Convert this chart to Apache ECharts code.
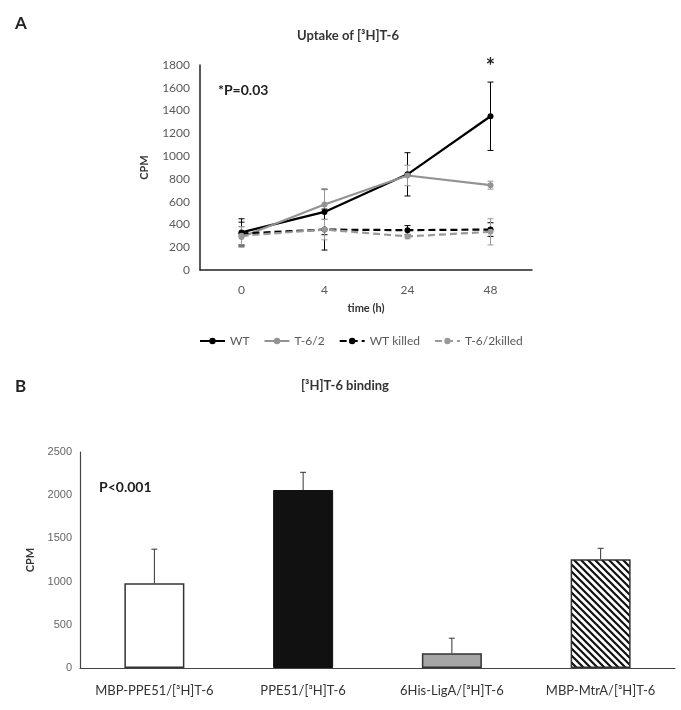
<!DOCTYPE html>
<html>
<head>
<meta charset="utf-8">
<script src="https://cdn.jsdelivr.net/npm/echarts@6/dist/echarts.min.js"></script>
<style>html,body{margin:0;padding:0;background:#fff;}#c{width:681px;height:710px;}</style>
</head>
<body>
<div id="c"></div>
<script>
// Panel A data
const timeLabels = ['0', '4', '24', '48'];
const wtMean = [330, 510, 840, 1350];
const wtErr = [120, 200, 190, 300];
const t62Mean = [290, 575, 830, 745];
const t62Err = [90, 130, 90, 35];
const wtKilledMean = [320, 355, 350, 355];
const wtKilledErr = [100, 180, 40, 60];
const t62KilledMean = [300, 355, 295, 335];
const t62KilledErr = [80, 90, 20, 115];
const yTicksA = [0, 200, 400, 600, 800, 1000, 1200, 1400, 1600, 1800];

// Panel B data
const bindCats = ['MBP-PPE51/[³H]T-6', 'PPE51/[³H]T-6', '6His-LigA/[³H]T-6', 'MBP-MtrA/[³H]T-6'];
const bindMean = [980, 2060, 170, 1260];
const bindErr = [395, 205, 175, 125];
const yTicksB = [0, 500, 1000, 1500, 2000, 2500];

const FONT = 'Lato, "Open Sans", sans-serif';

function errData(means, errs, upOnly) {
  return means.map((m, i) => [i, upOnly ? m : m - errs[i], m + errs[i]]);
}
function errRender(params, api) {
  const x = api.value(0);
  const lo = api.coord([x, api.value(1)]);
  const hi = api.coord([x, api.value(2)]);
  const c = api.visual('color');
  const w = 3;
  const style = { stroke: c, lineWidth: 1 };
  return {
    type: 'group',
    children: [
      { type: 'line', shape: { x1: lo[0], y1: lo[1], x2: hi[0], y2: hi[1] }, style: style },
      { type: 'line', shape: { x1: hi[0] - w, y1: hi[1], x2: hi[0] + w, y2: hi[1] }, style: style },
      { type: 'line', shape: { x1: lo[0] - w, y1: lo[1], x2: lo[0] + w, y2: lo[1] }, style: style }
    ]
  };
}

// hatch pattern
const pc = document.createElement('canvas');
const s = 7;
pc.width = s; pc.height = s;
const g = pc.getContext('2d');
g.fillStyle = '#fff'; g.fillRect(0, 0, s, s);
g.strokeStyle = '#111'; g.lineWidth = 2.2;
g.beginPath();
g.moveTo(-1, -1); g.lineTo(s + 1, s + 1);
g.moveTo(-1, s - 1); g.lineTo(1, s + 1);
g.moveTo(s - 1, -1); g.lineTo(s + 1, 1);
g.stroke();

const barStyles = [
  { color: '#ffffff', borderColor: '#333', borderWidth: 1.5 },
  { color: '#111111', borderColor: '#111', borderWidth: 1 },
  { color: '#a6a6a6', borderColor: '#333', borderWidth: 1.5 },
  { color: { image: pc, repeat: 'repeat' }, borderColor: '#333', borderWidth: 1.5 }
];

const lineSeries = [
  { name: 'WT', data: wtMean, err: wtErr, color: '#000000', type: 'solid' },
  { name: 'T-6/2', data: t62Mean, err: t62Err, color: '#939393', type: 'solid' },
  { name: 'WT killed', data: wtKilledMean, err: wtKilledErr, color: '#000000', type: [7, 4] },
  { name: 'T-6/2killed', data: t62KilledMean, err: t62KilledErr, color: '#9a9a9a', type: [7, 4] }
];

const series = [];
lineSeries.forEach((ls, k) => {
  series.push({
    type: 'custom', xAxisIndex: 0, yAxisIndex: 0,
    renderItem: errRender, itemStyle: { color: ls.color },
    data: errData(ls.data, ls.err, false), z: 2, silent: true
  });
});
lineSeries.forEach((ls, k) => {
  const sObj = {
    name: ls.name, type: 'line', xAxisIndex: 0, yAxisIndex: 0,
    data: ls.data, symbol: 'circle', symbolSize: 6, showSymbol: true,
    lineStyle: { color: ls.color, width: 2.2, type: ls.type },
    itemStyle: { color: ls.color }, z: 3
  };
  if (k === 0) {
    sObj.markPoint = {
      symbol: 'circle', symbolSize: 0,
      data: [{ coord: [3, 1780] }],
      label: { show: true, formatter: '*', fontSize: 22, fontWeight: 'bold', color: '#222', fontFamily: FONT }
    };
  }
  series.push(sObj);
});
series.push({
  type: 'bar', xAxisIndex: 1, yAxisIndex: 1, barWidth: 60,
  data: bindMean.map((v, i) => ({ value: v, itemStyle: barStyles[i] })), z: 2
});
series.push({
  type: 'custom', xAxisIndex: 1, yAxisIndex: 1,
  renderItem: function (params, api) {
    const x = api.value(0);
    const lo = api.coord([x, api.value(1)]);
    const hi = api.coord([x, api.value(2)]);
    const style = { stroke: '#333', lineWidth: 1 };
    return { type: 'group', children: [
      { type: 'line', shape: { x1: lo[0], y1: lo[1], x2: hi[0], y2: hi[1] }, style: style },
      { type: 'line', shape: { x1: hi[0] - 3, y1: hi[1], x2: hi[0] + 3, y2: hi[1] }, style: style }
    ]};
  },
  data: errData(bindMean, bindErr, true), z: 1, silent: true
});

const plain = v => String(v);

const chart = echarts.init(document.getElementById('c'), null, { renderer: 'canvas' });
chart.setOption({
  backgroundColor: '#fff',
  animation: false,
  textStyle: { fontFamily: FONT },
  title: [
    { text: 'A', left: 10, top: 10, textStyle: { fontSize: 17, fontWeight: 'bold', color: '#222', fontFamily: FONT } },
    { text: 'Uptake of [³H]T-6', left: 343, textAlign: 'center', top: 24, textStyle: { fontSize: 13, fontWeight: 'bold', color: '#333', fontFamily: FONT } },
    { text: '*P=0.03', left: 213, top: 78, textStyle: { fontSize: 14, fontWeight: 'bold', color: '#222', fontFamily: FONT } },
    { text: 'B', left: 10, top: 373, textStyle: { fontSize: 17, fontWeight: 'bold', color: '#222', fontFamily: FONT } },
    { text: '[³H]T-6 binding', left: 340, textAlign: 'center', top: 374, textStyle: { fontSize: 13, fontWeight: 'bold', color: '#333', fontFamily: FONT } },
    { text: 'P<0.001', left: 94, top: 475, textStyle: { fontSize: 14, fontWeight: 'bold', color: '#222', fontFamily: FONT } }
  ],
  legend: {
    data: lineSeries.map(l => l.name),
    left: 194, top: 330, itemWidth: 25, itemHeight: 8, itemGap: 14,
    textStyle: { fontSize: 12, color: '#595959', fontFamily: FONT }
  },
  grid: [
    { left: 200, right: 149, top: 65, bottom: 440 },
    { left: 80, right: 6, top: 452, bottom: 42 }
  ],
  xAxis: [
    {
      type: 'category', gridIndex: 0, data: timeLabels,
      name: 'time (h)', nameLocation: 'middle', nameGap: 33,
      nameTextStyle: { fontSize: 11, fontWeight: 'bold', color: '#333', fontFamily: FONT },
      axisLine: { lineStyle: { color: '#222', width: 1.5 } }, axisTick: { show: false },
      axisLabel: { fontSize: 12, color: '#595959', margin: 14, fontFamily: FONT }
    },
    {
      type: 'category', gridIndex: 1, data: bindCats,
      axisLine: { lineStyle: { color: '#444', width: 1.2 } }, axisTick: { show: false },
      axisLabel: { fontSize: 13, color: '#333', margin: 16, fontFamily: FONT, interval: 0 }
    }
  ],
  yAxis: [
    {
      type: 'value', gridIndex: 0, min: 0, max: 1800, interval: 200,
      name: 'CPM', nameLocation: 'middle', nameGap: 50, nameRotate: 90,
      nameTextStyle: { fontSize: 11, fontWeight: 'bold', color: '#333', fontFamily: FONT },
      axisLine: { show: true, lineStyle: { color: '#222', width: 1.5 } }, axisTick: { show: false },
      splitLine: { show: false },
      axisLabel: { fontSize: 12, color: '#595959', margin: 10, fontFamily: FONT,
        customValues: yTicksA, formatter: plain }
    },
    {
      type: 'value', gridIndex: 1, min: 0, max: 2500, interval: 500,
      name: 'CPM', nameLocation: 'middle', nameGap: 44, nameRotate: 90,
      nameTextStyle: { fontSize: 11, fontWeight: 'bold', color: '#333', fontFamily: FONT },
      axisLine: { show: true, lineStyle: { color: '#444', width: 1.2 } }, axisTick: { show: false },
      splitLine: { show: false },
      axisLabel: { fontSize: 11, color: '#666', margin: 8, fontFamily: '"Liberation Sans", Arial, sans-serif',
        customValues: yTicksB, formatter: plain }
    }
  ],
  series: series
});
</script>
</body>
</html>
